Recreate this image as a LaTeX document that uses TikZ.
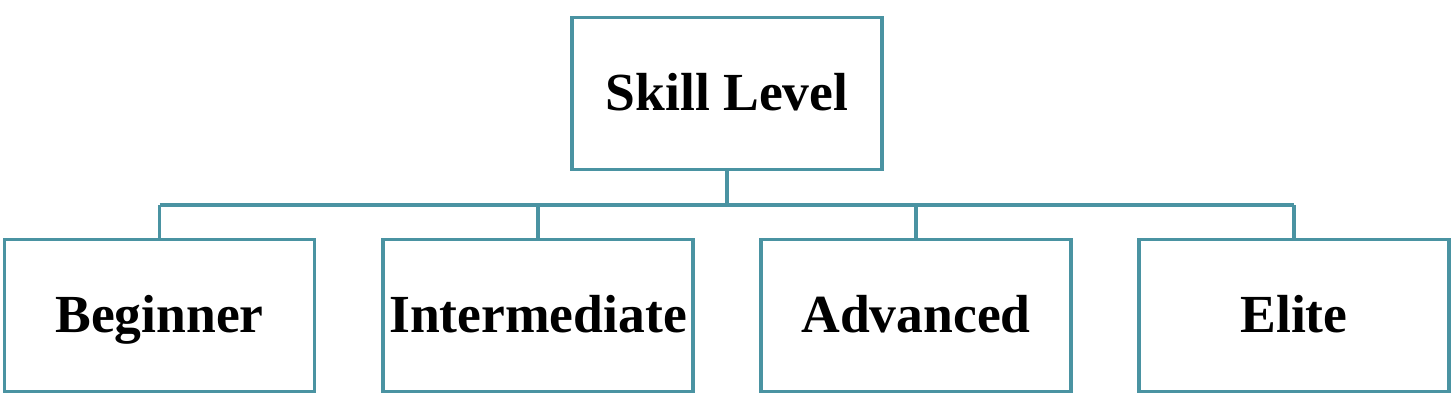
\documentclass[tikz,border=0pt]{standalone}
\usepackage{fontspec}
\setmainfont{Liberation Serif}
\usepackage{tikz}
\definecolor{boxteal}{HTML}{4A93A2}
\tikzset{level/.style={draw=boxteal,line width=2pt,rectangle,fill=white,minimum width=6.2cm,minimum height=3.04cm,inner sep=0pt,text height=0.7cm,text depth=0cm,font=\fontsize{30.5}{36}\selectfont\bfseries}}
\tikzset{link/.style={draw=boxteal,line width=2pt}}

\begin{document}
\begin{tikzpicture}[x=0.02cm,y=-0.02cm]
            \useasboundingbox (0,0) rectangle (1454,409);
            % верхний блок
            \node[level] (skill) at (727,93.5) {Skill Level};
            % нижние блоки
            \node[level] (beg) at (159.5,315.5) {Beginner};
            \node[level] (inter) at (538,315.5) {Intermediate};
            \node[level] (adv) at (916,315.5) {Advanced};
            \node[level] (elite) at (1294,315.5) {Elite};
            % шина
            \coordinate (bus) at (727,205);
            \draw[link] (skill.south) -- (bus);
            \draw[link] (beg.north |- bus) -- (elite.north |- bus);
            \foreach \b in {beg,inter,adv,elite}
                \draw[link] (bus -| \b.north) -- (\b.north);
        \end{tikzpicture}
\end{document}
